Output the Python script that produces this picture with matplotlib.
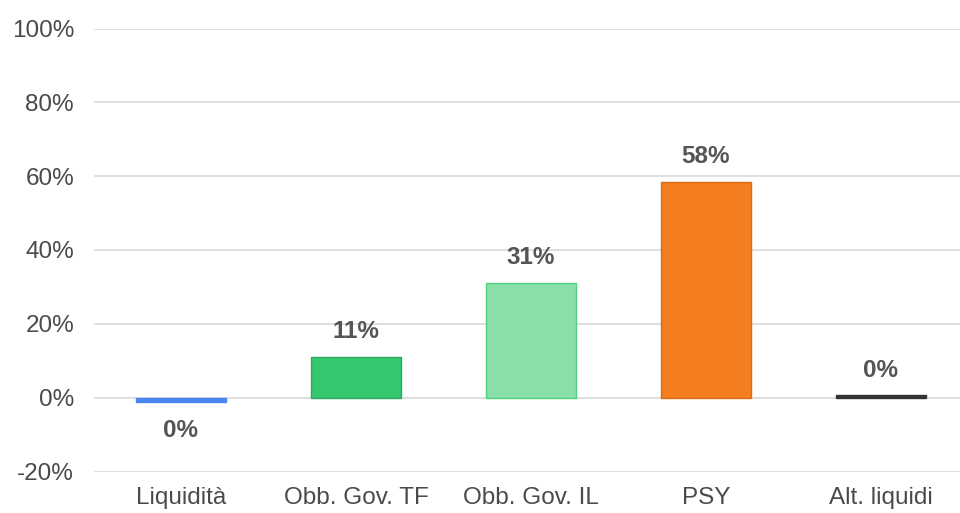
import matplotlib
matplotlib.use('Agg')
import matplotlib.pyplot as plt

categories = ['Liquidità', 'Obb. Gov. TF', 'Obb. Gov. IL', 'PSY', 'Alt. liquidi']
values = [-1.3, 10.95, 31.05, 58.5, 0.6]
value_labels = ['0%', '11%', '31%', '58%', '0%']
bar_colors = ['#4a86f0', '#34c76e', '#88e0a8', '#f47d20', '#333333']
edge_colors = ['#4a86f0', '#2fa85e', '#52cf7f', '#d96a16', '#333333']
y_ticks = [-20, 0, 20, 40, 60, 80, 100]

plt.rcParams['font.family'] = ['Liberation Sans', 'DejaVu Sans']
TEXT = '#4a4a4a'

fig = plt.figure(figsize=(9.6, 5.13), dpi=100)
ax = fig.add_axes([93.5 / 960, 1 - 471.5 / 513, 875 / 960, 443 / 513])

x = range(len(categories))
ax.bar(x, values, width=0.51, color=bar_colors, edgecolor=edge_colors,
       linewidth=1.0, zorder=3)

# etichette dei valori
for i, (v, lab) in enumerate(zip(values, value_labels)):
    if v < 0:
        ax.annotate(lab, (i, v), xytext=(0, -12), textcoords='offset points',
                    ha='center', va='top', fontsize=17.5, fontweight='bold',
                    color='#555555')
    else:
        ax.annotate(lab, (i, v), xytext=(0, 10), textcoords='offset points',
                    ha='center', va='bottom', fontsize=17.5, fontweight='bold',
                    color='#555555')

ax.set_xlim(-0.5, len(categories) - 0.5)
ax.set_ylim(-20, 100)
ax.set_yticks(y_ticks)
ax.set_yticklabels([f'{t}%' for t in y_ticks])
ax.set_xticks(list(x))
ax.set_xticklabels(categories)

ax.grid(True, axis='y', color='#dcdcdc', linewidth=1.3, zorder=0)
ax.set_axisbelow(True)
ax.tick_params(axis='both', length=0, labelsize=17.5, colors=TEXT)
ax.tick_params(axis='y', pad=14)
ax.tick_params(axis='x', pad=11)

for s in ax.spines.values():
    s.set_visible(False)

fig.savefig('out.png', dpi=100, facecolor='white')
